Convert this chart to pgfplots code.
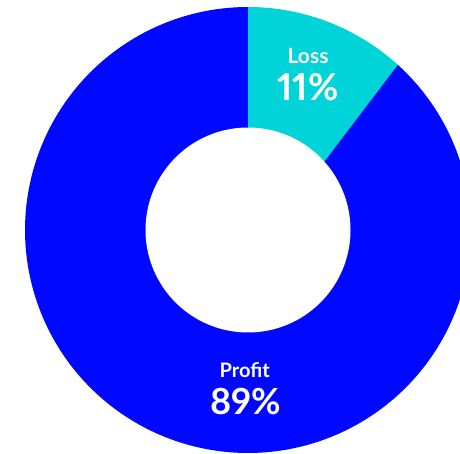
\documentclass[border=0pt]{standalone}
\usepackage{pgfplots}
\pgfplotsset{compat=1.18}
\usepackage{fontspec}
\setmainfont{Lato}[Numbers=Proportional]
\definecolor{losscol}{RGB}{0,212,216}
\definecolor{profitcol}{RGB}{0,8,255}
% Data: Loss 11, Profit 89 (percent)
% Loss wedge spans from 90 deg down to 47.8 deg on the outer rim
\begin{document}
\begin{tikzpicture}
\begin{axis}[
  x=1pt, y=1pt,
  xmin=-248, xmax=212, ymin=-224, ymax=230,
  hide axis, clip=true,
]
% Profit (89%)
\addplot[fill=profitcol, draw=none, domain=-270:47.8, samples=240]
  ({223*cos(x)},{223*sin(x)}) -- (axis cs:0,0) -- cycle;
% Loss (11%)
\addplot[fill=losscol, draw=none, domain=47.8:90, samples=60]
  ({223*cos(x)},{223*sin(x)}) -- (axis cs:0,-32) -- cycle;
% hole
\addplot[fill=white, draw=none, domain=0:360, samples=180]
  ({102.5*cos(x)},{102.5*sin(x)}) -- cycle;
\node[anchor=base, text=white, font=\bfseries\fontsize{21}{24}\selectfont] at (axis cs:60,166.7) {Loss};
\node[anchor=base, text=white, font=\bfseries\fontsize{37}{42}\selectfont] at (axis cs:60,129) {11\%};
\node[anchor=base, text=white, font=\bfseries\fontsize{20}{24}\selectfont] at (axis cs:-3.3,-147.7) {Profit};
\node[anchor=base, text=white, font=\bfseries\fontsize{36}{40}\selectfont] at (axis cs:-2,-185) {89\%};
\end{axis}
\pgfresetboundingbox
\path[use as bounding box] (current axis.south west) rectangle (current axis.north east);
\end{tikzpicture}
\end{document}
